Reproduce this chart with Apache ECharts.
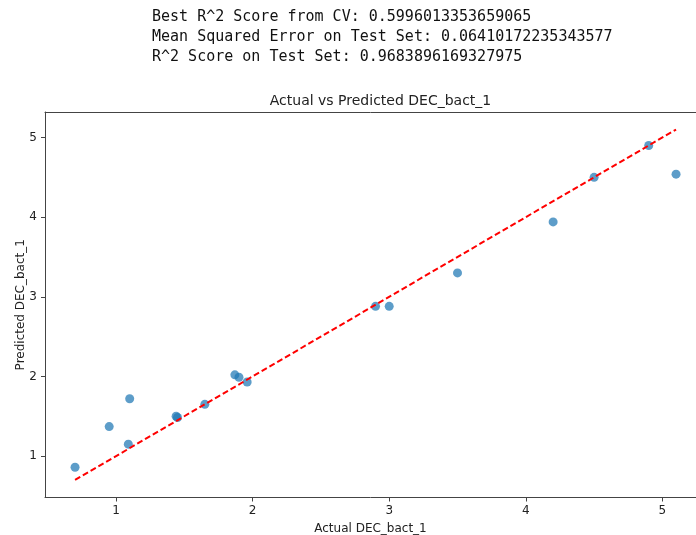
<!DOCTYPE html>
<html>
<head>
<meta charset="utf-8">
<script src="https://cdn.jsdelivr.net/npm/echarts@6/dist/echarts.min.js"></script>
<style>
html,body{margin:0;padding:0;background:#fff;overflow:hidden;}
#chart{width:696px;height:535px;}
</style>
</head>
<body>
<div id="chart"></div>
<script>
// ---- data ----
const headerLines = [
  "Best R^2 Score from CV: 0.5996013353659065",
  "Mean Squared Error on Test Set: 0.06410172235343577",
  "R^2 Score on Test Set: 0.9683896169327975"
];
const chartTitle = "Actual vs Predicted DEC_bact_1";
const xLabel = "Actual DEC_bact_1";
const yLabel = "Predicted DEC_bact_1";
const actual    = [0.70, 0.95, 1.10, 1.09, 1.44, 1.45, 1.65, 1.87, 1.90, 1.96, 2.90, 3.00, 3.50, 4.20, 4.50, 4.90, 5.10];
const predicted = [0.86, 1.37, 1.72, 1.15, 1.50, 1.485, 1.65, 2.02, 1.99, 1.93, 2.88, 2.88, 3.30, 3.94, 4.50, 4.90, 4.54];
const xTicks = [1, 2, 3, 4, 5];
const yTicks = [1, 2, 3, 4, 5];
const lineStart = 0.7, lineEnd = 5.1;
// visible x range (the reference figure is cropped on the right)
const xMin = 0.48, xMax = 5.246;
const yMin = 0.48, yMax = 5.32;

// ---- chart ----
const chart = echarts.init(document.getElementById('chart'), null, {renderer: 'canvas'});
const axisColor = '#444';
const textColor = '#222';
const font = 'DejaVu Sans';

const points = actual.map((a, i) => [a, predicted[i]]);

chart.setOption({
  animation: false,
  backgroundColor: '#fff',
  title: [
    {
      text: headerLines.join('\n'),
      left: 147, top: 2,
      textStyle: {fontFamily: 'DejaVu Sans Mono', fontSize: 15, fontWeight: 'normal', color: '#111', lineHeight: 20}
    },
    {
      text: chartTitle,
      left: 375.5, top: 89, textAlign: 'center',
      textStyle: {fontFamily: font, fontSize: 14, fontWeight: 'normal', color: textColor}
    }
  ],
  grid: {left: 45, top: 112, right: 0, height: 385.5, containLabel: false, outerBoundsMode: 'none'},
  xAxis: [
    {
      type: 'value', min: xMin, max: xMax, position: 'bottom',
      name: xLabel, nameLocation: 'middle', nameGap: 25, nameMoveOverlap: false,
      nameTextStyle: {fontFamily: font, fontSize: 12, color: textColor},
      splitLine: {show: false},
      axisLine: {show: true, onZero: false, lineStyle: {color: axisColor, width: 1}},
      axisTick: {show: true, length: 4, lineStyle: {color: axisColor}, customValues: xTicks},
      axisLabel: {fontFamily: font, fontSize: 12, color: textColor, margin: 7, customValues: xTicks}
    },
    {
      type: 'value', min: xMin, max: xMax, position: 'top',
      splitLine: {show: false},
      axisLine: {show: true, onZero: false, lineStyle: {color: axisColor, width: 1}},
      axisTick: {show: false}, axisLabel: {show: false}
    }
  ],
  yAxis: [
    {
      type: 'value', min: yMin, max: yMax, position: 'left',
      name: yLabel, nameLocation: 'middle', nameGap: 18, nameRotate: 90, nameMoveOverlap: false,
      nameTextStyle: {fontFamily: font, fontSize: 12, color: textColor},
      splitLine: {show: false},
      axisLine: {show: true, onZero: false, lineStyle: {color: axisColor, width: 1}},
      axisTick: {show: true, length: 4, lineStyle: {color: axisColor}, customValues: yTicks},
      axisLabel: {fontFamily: font, fontSize: 12, color: textColor, margin: 8, customValues: yTicks}
    }
  ],
  series: [
    {
      type: 'scatter',
      xAxisIndex: 0, yAxisIndex: 0,
      data: points,
      symbolSize: 9,
      itemStyle: {color: '#1f77b4', opacity: 0.72},
      z: 2
    },
    {
      type: 'line',
      xAxisIndex: 0, yAxisIndex: 0,
      data: [[lineStart, lineStart], [lineEnd, lineEnd]],
      showSymbol: false, symbol: 'none',
      lineStyle: {color: '#ff0000', width: 2, type: [6, 3]},
      z: 3
    }
  ]
});
</script>
</body>
</html>
